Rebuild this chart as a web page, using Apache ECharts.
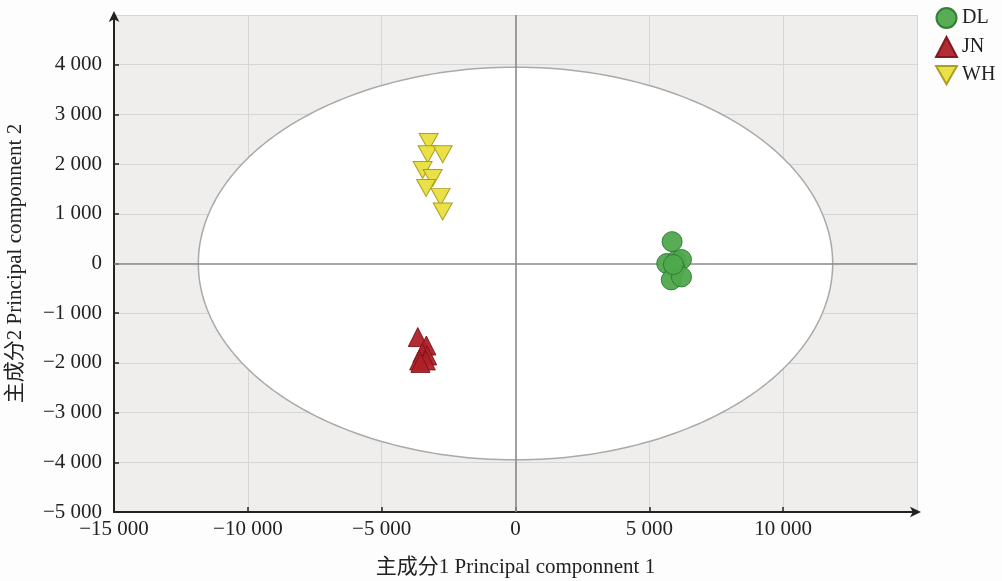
<!DOCTYPE html>
<html><head><meta charset="utf-8">
<script src="https://cdn.jsdelivr.net/npm/echarts@6/dist/echarts.min.js"></script>
<style>html,body{margin:0;padding:0;background:#fdfdfd}#c{width:1002px;height:581px}</style>
</head><body><div id="c"></div>
<script>
const seriesNames = ['DL', 'JN', 'WH'];
const dlPoints = [[5850, 440], [5650, 0], [6000, 50], [6200, 80], [5950, -100], [5820, -330], [6200, -270], [5900, -20]];
const jnPoints = [[-3650, -1480], [-3330, -1650], [-3480, -1800], [-3300, -1850], [-3600, -1950], [-3350, -1950], [-3550, -2000]];
const whPoints = [[-3245, 2446], [-3282, 2200], [-2720, 2200], [-3470, 1880], [-3095, 1720], [-3340, 1520], [-2800, 1340], [-2720, 1046]];
const ellipseCenter = [0, 0];
const ellipseRadii = [11850, 3950];
const xTicks = [-15000, -10000, -5000, 0, 5000, 10000, 15000];
const yTicks = [-5000, -4000, -3000, -2000, -1000, 0, 1000, 2000, 3000, 4000, 5000];
const xName = '主成分1 Principal componnent 1';
const yName = '主成分2 Principal componnent 2';

const serif = '"Liberation Serif", "Noto Sans CJK SC", serif';
function fmt(v) {
  const s = Math.abs(v).toString().replace(/\B(?=(\d{3})+(?!\d))/g, ' ');
  return (v < 0 ? '\u2212' : '') + s;
}
const downTri = 'path://M0,0 L10,0 L5,8.7 Z';
const chart = echarts.init(document.getElementById('c'));
chart.setOption({
  backgroundColor: '#fdfdfd',
  animation: false,
  grid: { left: 114, right: 85, top: 15, bottom: 69, outerBoundsMode: 'none', containLabel: false, show: true, backgroundColor: '#efeeec', borderWidth: 0 },
  legend: {
    orient: 'vertical', left: 930, top: 2, itemWidth: 21, itemHeight: 20, itemGap: 7,
    textStyle: { fontFamily: serif, fontSize: 20, lineHeight: 20, color: '#222' },
    data: [
      { name: seriesNames[0], icon: 'circle' },
      { name: seriesNames[1], icon: 'triangle' },
      { name: seriesNames[2], icon: downTri }
    ]
  },
  xAxis: {
    type: 'value', min: xTicks[0], max: xTicks[xTicks.length - 1], interval: 5000,
    name: xName, nameLocation: 'middle', nameGap: 45,
    nameTextStyle: { fontFamily: serif, fontSize: 21, color: '#222' },
    axisLine: { onZero: false, symbol: ['none', 'arrow'], symbolSize: [8, 11], symbolOffset: [0, 4], lineStyle: { color: '#222', width: 2 } },
    axisTick: { show: true, inside: true, length: 5, lineStyle: { color: '#222', width: 1.5 } },
    axisLabel: { showMaxLabel: false, fontFamily: serif, fontSize: 21, color: '#222', margin: 7, formatter: fmt },
    splitLine: { show: true, lineStyle: { color: '#d6d6d6', width: 1 } }
  },
  yAxis: {
    type: 'value', min: yTicks[0], max: yTicks[yTicks.length - 1], interval: 1000,
    name: yName, nameLocation: 'middle', nameGap: 88, nameRotate: 90,
    nameTextStyle: { fontFamily: serif, fontSize: 21, color: '#222' },
    axisLine: { onZero: false, symbol: ['none', 'arrow'], symbolSize: [8, 11], symbolOffset: [0, 4], lineStyle: { color: '#222', width: 2 } },
    axisTick: { show: true, inside: true, length: 5, lineStyle: { color: '#222', width: 1.5 } },
    axisLabel: { showMaxLabel: false, fontFamily: serif, fontSize: 21, color: '#222', margin: 12, formatter: fmt },
    splitLine: { show: true, lineStyle: { color: '#d6d6d6', width: 1 } }
  },
  series: [
    {
      type: 'custom', silent: true, z: 1,
      data: [[ellipseCenter[0], ellipseCenter[1], ellipseRadii[0], ellipseRadii[1]]],
      renderItem: function (params, api) {
        const cx = api.value(0), cy = api.value(1), rx = api.value(2), ry = api.value(3);
        const pts = [];
        for (let i = 0; i < 240; i++) {
          const t = i / 240 * Math.PI * 2;
          pts.push(api.coord([cx + rx * Math.cos(t), cy + ry * Math.sin(t)]));
        }
        return { type: 'polygon', shape: { points: pts }, style: { fill: '#ffffff', stroke: '#a9a9a9', lineWidth: 1.5 } };
      }
    },
    {
      name: seriesNames[0], type: 'scatter', z: 3, symbol: 'circle', symbolSize: 20, data: dlPoints,
      itemStyle: { color: '#4ea84c', borderColor: '#2d7a31', borderWidth: 1, opacity: 0.95 },
      markLine: {
        silent: true, symbol: 'none', label: { show: false }, z: 2,
        lineStyle: { color: '#8a8a8a', width: 1.6, type: 'solid' },
        data: [{ xAxis: 0 }, { yAxis: 0 }]
      }
    },
    {
      name: seriesNames[1], type: 'scatter', z: 3, symbol: 'triangle', symbolSize: 19, data: jnPoints,
      itemStyle: { color: '#ae2128', borderColor: '#7d1419', borderWidth: 1, opacity: 0.95 }
    },
    {
      name: seriesNames[2], type: 'scatter', z: 3, symbol: downTri, symbolSize: [19, 17], data: whPoints,
      itemStyle: { color: '#e9df3f', borderColor: '#a89a1c', borderWidth: 1, opacity: 0.95 }
    }
  ]
});
</script></body></html>
